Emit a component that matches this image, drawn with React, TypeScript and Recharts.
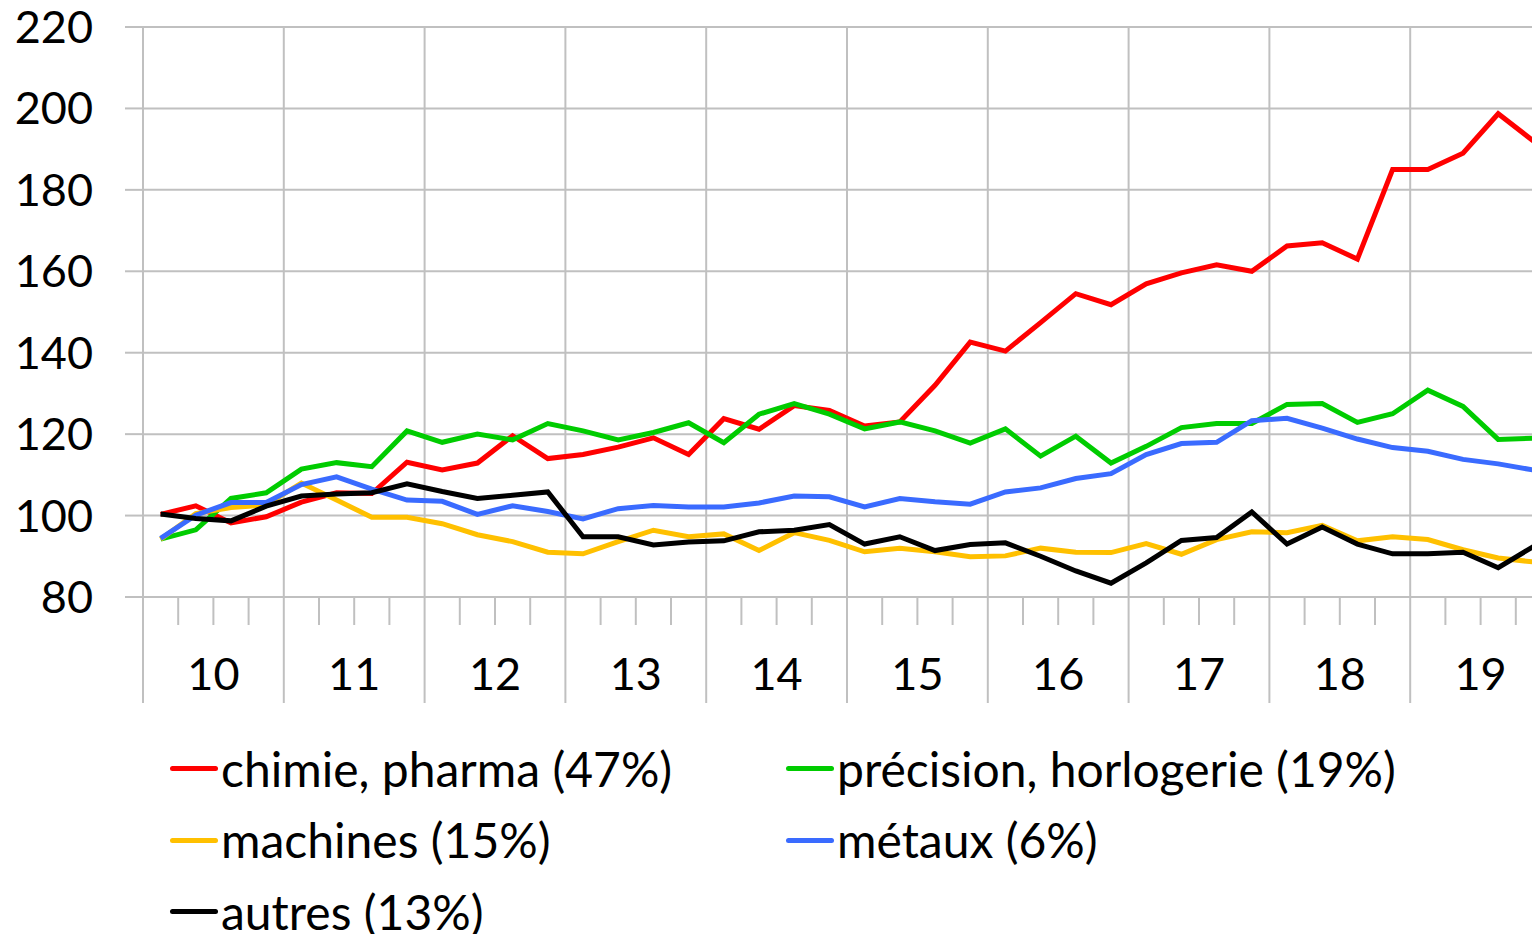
import React from "react";
import { CartesianGrid, Line, LineChart, ReferenceLine, XAxis, YAxis } from "recharts";

// quarterly index, 2010 Q1 = 100 (approx.)
const yearLabels = ["10", "11", "12", "13", "14", "15", "16", "17", "18", "19"];

const chimie = [
  100.3, 102.4, 98.2, 99.7, 103.3, 105.6, 105.4, 113.1, 111.2, 112.9,
  119.6, 114.0, 115.0, 116.8, 119.1, 115.0, 123.8, 121.2, 127.0, 125.8,
  122.0, 123.0, 132.0, 142.6, 140.4, 147.4, 154.5, 151.8, 156.9, 159.6,
  161.6, 160.0, 166.2, 167.0, 163.0, 185.0, 185.0, 189.0, 198.7, 192.0,
];
const precision = [
  94.2, 96.5, 104.2, 105.6, 111.4, 113.0, 112.0, 120.8, 118.0, 120.0,
  118.6, 122.6, 120.8, 118.6, 120.4, 122.8, 117.9, 124.9, 127.5, 124.9,
  121.3, 123.0, 120.8, 117.8, 121.3, 114.6, 119.5, 112.9, 117.0, 121.6,
  122.6, 122.6, 127.3, 127.5, 122.9, 125.0, 130.8, 126.8, 118.7, 119.0,
];
const machines = [
  94.2, 100.5, 102.0, 102.6, 108.0, 103.8, 99.6, 99.6, 98.0, 95.3,
  93.6, 91.0, 90.6, 93.6, 96.4, 94.8, 95.5, 91.4, 95.8, 93.9,
  91.1, 92.0, 91.1, 89.9, 90.1, 92.0, 91.0, 90.9, 93.1, 90.5,
  94.1, 96.0, 95.8, 97.6, 93.8, 94.8, 94.1, 91.6, 89.6, 88.6,
];
const metaux = [
  94.4, 100.1, 103.2, 103.2, 107.6, 109.5, 106.5, 103.8, 103.5, 100.3,
  102.4, 101.0, 99.2, 101.7, 102.5, 102.1, 102.1, 103.1, 104.8, 104.6,
  102.1, 104.2, 103.4, 102.8, 105.8, 106.8, 109.1, 110.3, 115.0, 117.7,
  118.0, 123.3, 123.9, 121.5, 118.8, 116.7, 115.8, 113.8, 112.7, 111.2,
];
const autres = [
  100.4, 99.3, 98.7, 102.3, 104.8, 105.3, 105.6, 107.8, 105.9, 104.2,
  105.0, 105.8, 94.8, 94.8, 92.8, 93.5, 93.8, 96.0, 96.4, 97.8,
  93.0, 94.8, 91.4, 92.9, 93.3, 90.0, 86.4, 83.4, 88.4, 93.9,
  94.6, 100.9, 93.0, 97.2, 93.0, 90.6, 90.6, 91.0, 87.2, 92.4,
];

const yTicks = [80, 100, 120, 140, 160, 180, 200, 220];

const series = [
  { key: "chimie", name: "chimie, pharma (47%)", color: "#ff0000", values: chimie },
  { key: "precision", name: "précision, horlogerie (19%)", color: "#00cc00", values: precision },
  { key: "machines", name: "machines (15%)", color: "#ffc000", values: machines },
  { key: "metaux", name: "métaux (6%)", color: "#3a6bff", values: metaux },
  { key: "autres", name: "autres (13%)", color: "#000000", values: autres },
];

const GRID = "#c0c0c0";
const FONT = "Lato, 'Open Sans', sans-serif";

// x is a quarter index on a numeric axis so the grid can sit on the year boundaries
const data = chimie.map((_, i) => {
  const row: Record<string, number> = { t: i + 0.5 };
  series.forEach((s) => {
    row[s.key] = s.values[i];
  });
  return row;
});

const quarterBounds = Array.from({ length: yearLabels.length * 4 + 1 }, (_, i) => i);
const yearBounds = quarterBounds.filter((v) => v % 4 === 0);

function QuarterTick(props: any) {
  const { x, y, payload } = props;
  const v = Number(payload?.value);
  const isYear = v % 4 === 0;
  const label = v % 4 === 2 ? yearLabels[(v - 2) / 4] : null;
  return (
    <g>
      <line x1={x} x2={x} y1={y} y2={y + (isYear ? 106 : 28)} stroke={GRID} strokeWidth={2} />
      {label && (
        <text x={x} y={y + 93} textAnchor="middle" fontSize={45} fontFamily={FONT} fill="#000">
          {label}
        </text>
      )}
    </g>
  );
}

export default function App() {
  return (
    <div
      style={{
        position: "fixed",
        left: 0,
        top: 0,
        width: 1532,
        height: 934,
        overflow: "hidden",
        background: "#fff",
      }}
    >
      <LineChart
        width={1551}
        height={707}
        data={data}
        margin={{ top: 27, right: 0, left: 0, bottom: 0 }}
      >
        <CartesianGrid vertical={false} stroke={GRID} strokeWidth={2} />
        {yearBounds.map((v) => (
          <ReferenceLine key={v} x={v} stroke={GRID} strokeWidth={2} />
        ))}
        <XAxis
          type="number"
          dataKey="t"
          domain={[0, 40]}
          ticks={quarterBounds}
          interval={0}
          height={110}
          axisLine={false}
          tickLine={false}
          tickSize={0}
          tickMargin={0}
          tick={<QuarterTick />}
        />
        <YAxis
          domain={[80, 220]}
          ticks={yTicks}
          interval={0}
          width={143}
          axisLine={false}
          tickSize={18}
          tickMargin={32}
          tickLine={{ stroke: GRID, strokeWidth: 2 }}
          tick={{ fill: "#000", fontSize: 45, fontFamily: FONT }}
        />
        {series.map((s) => (
          <Line
            key={s.key}
            type="linear"
            dataKey={s.key}
            name={s.name}
            stroke={s.color}
            strokeWidth={5}
            dot={false}
            isAnimationActive={false}
          />
        ))}
      </LineChart>

      <div
        style={{
          position: "absolute",
          left: 170,
          top: 733,
          display: "grid",
          gridTemplateColumns: "616px 620px",
          gridAutoRows: "71.5px",
          fontFamily: FONT,
          fontSize: 48,
          color: "#000",
        }}
      >
        {series.map((s) => (
          <div key={s.key} style={{ display: "flex", alignItems: "center" }}>
            <span
              style={{
                display: "inline-block",
                flexShrink: 0,
                width: 48,
                height: 5,
                borderRadius: 3,
                background: s.color,
              }}
            />
            <span style={{ marginLeft: 3, lineHeight: 1, whiteSpace: "nowrap" }}>{s.name}</span>
          </div>
        ))}
      </div>
    </div>
  );
}
